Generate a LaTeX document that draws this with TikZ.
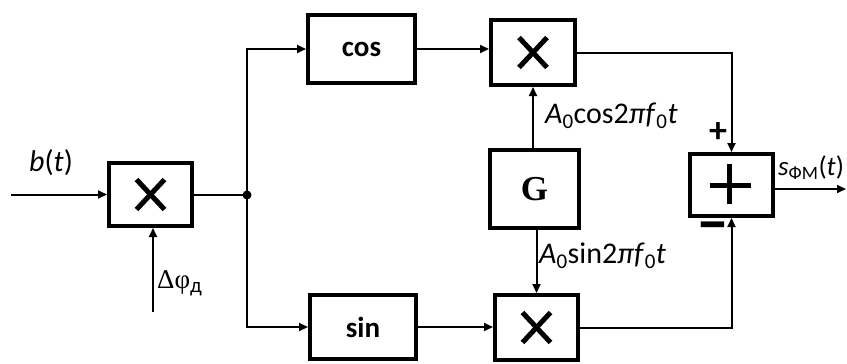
\documentclass[tikz,border=0pt]{standalone}
\usepackage{fontspec}
\usepackage{graphicx}
\setmainfont{Carlito}
\newfontfamily\serifG{Liberation Serif}
\usetikzlibrary{arrows.meta}
\tikzset{
  blk/.style={draw, line width=4pt, inner sep=0pt, fill=white},
  conn/.style={line width=2pt},
  arr/.style={conn, -{Triangle[length=9pt,width=8pt]}},
  lbl/.style={inner sep=0pt, font=\fontsize{30}{32}\selectfont},
  crs/.style={line width=5pt}
}
\begin{document}
\begin{tikzpicture}[x=1pt,y=-1pt]
\useasboundingbox (0,0) rectangle (847,364);
% blocks
\node[blk, minimum width=83pt, minimum height=63pt] (m1) at (150.5,194.5) {};
\node[blk, minimum width=107pt, minimum height=68pt, font=\fontsize{29}{31}\selectfont\bfseries] (cos) at (361.5,49) {cos};
\node[blk, minimum width=106pt, minimum height=64pt, font=\fontsize{29}{31}\selectfont\bfseries] (sin) at (363,327) {sin};
\node[blk, minimum width=84pt, minimum height=65pt] (m2) at (533,52.5) {};
\node[blk, minimum width=83pt, minimum height=65pt] (m3) at (536.5,327.5) {};
\node[blk, minimum width=89pt, minimum height=78pt, font=\serifG\fontsize{35}{37}\selectfont\bfseries] (G) at (534.5,189) {G};
\node[blk, minimum width=83pt, minimum height=62pt] (sum) at (731.5,185) {};
% crosses
\foreach \b in {m1,m2,m3}{
  \draw[crs] ([shift={(-14pt,15pt)}]\b.center) -- ([shift={(14pt,-15pt)}]\b.center);
  \draw[crs] ([shift={(-14pt,-15pt)}]\b.center) -- ([shift={(14pt,15pt)}]\b.center);
}
% plus in sum
\draw[crs] ([xshift=-22pt]sum.center) -- ([xshift=19pt]sum.center);
\draw[crs] ([shift={(-2pt,-19pt)}]sum.center) -- ([shift={(-2pt,21pt)}]sum.center);
% coordinates
\coordinate (in) at (11,194.5);
\coordinate (dphi) at (153,312);
\coordinate (j) at (247,195);
\coordinate (out) at (846,189);
% connectors
\draw[arr] (in) -- (m1.west);
\draw[arr] (dphi) -- (dphi |- m1.south);
\draw[conn] (m1.east |- j) -- (j);
\fill (j) circle (4.5pt);
\draw[arr] (j) |- (cos.west);
\draw[arr] (j) |- (sin.west);
\draw[arr] (cos.east) -- (m2.west |- cos.east);
\draw[arr] (sin.east) -- (m3.west |- sin.east);
\draw[arr] ([xshift=-1.5pt]G.north) -- ([xshift=-1.5pt]G.north |- m2.south);
\draw[arr] ([xshift=2pt]G.south) -- ([xshift=2pt]G.south |- m3.north);
\draw[arr] (m2.east) -| (sum.north);
\draw[arr] (m3.east) -| (sum.south);
\draw[arr] (sum.east |- out) -- (out);
% labels
\node[lbl] (lb) at (51,163) {\textit{b}(\textit{t})};
\node[lbl, anchor=west] (ld) at (157,283) {{\serifG\fontsize{27}{29}\selectfont Δφ}\textsubscript{д}};
\node[lbl, anchor=west] (lc) at (545,116) {\textit{A}\textsubscript{0}cos2\textit{π}\textit{f}\textsubscript{0}\textit{t}};
\node[lbl, anchor=west] (ls) at (539,256) {\textit{A}\textsubscript{0}sin2\textit{π}\textit{f}\textsubscript{0}\textit{t}};
\node[lbl, font=\fontsize{36}{36}\selectfont\bfseries] (lp) at (718,133) {+};
\node[lbl, font=\fontsize{30}{30}\selectfont\bfseries] (lm) at (713,233) {\scalebox{2.2}[2.2]{–}};
\node[lbl, anchor=west, font=\fontsize{27}{29}\selectfont] (lo) at (778,168) {\textit{s}\textsubscript{ФМ}(\textit{t})};
\end{tikzpicture}
\end{document}
